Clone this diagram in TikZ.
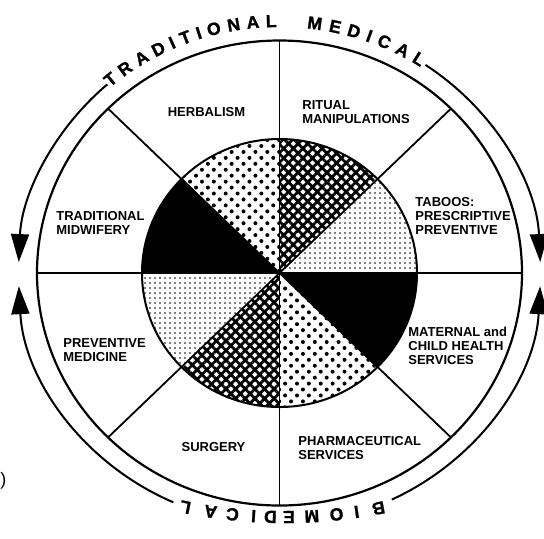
\documentclass[tikz,border=0pt]{standalone}
\usepackage{fontspec}
\setsansfont{Liberation Sans}
\newfontface\arcface{Liberation Sans Bold}[FakeBold=1.2]
\usetikzlibrary{arrows.meta,patterns.meta}

\begin{document}
\begin{tikzpicture}[x=0.5pt,y=0.5pt,
    lbl/.style={font=\sffamily\bfseries\fontsize{6.5}{7}\selectfont, align=left, inner sep=0pt},
    arcl/.style={font=\arcface\fontsize{8.8}{9}\selectfont, inner sep=0pt, anchor=base},
    rim/.style={line width=1pt, -{Triangle[length=14pt,width=9pt]}},
    bigdots/.style={pattern={Dots[radius=1pt,distance=4.2pt,angle=45]}},
    finedots/.style={pattern={Dots[radius=0.45pt,distance=2.5pt]}},
    hatched/.style={pattern={Hatch[angle=45,distance=3.4pt,line width=1.4pt]}},
    darkfill/.style={fill=black}]
        \useasboundingbox (-279.5,-265) rectangle (264.5,273);

        % PIE
        \foreach \a/\sty in {90/bigdots, 45/hatched, 0/finedots, -45/darkfill,
                             -90/bigdots, -135/hatched, 180/finedots, 135/darkfill}
          \fill[\sty] (0,0) -- (\a:137.5 and 134)
            arc[start angle=\a, delta angle=45, x radius=137.5, y radius=134] -- cycle;

        % SEGMENTS
        \foreach \a in {0,45,90,135}
          \draw[line width=0.9pt] (\a:242.5 and 232.5) -- (\a+180:242.5 and 232.5);
        \draw[line width=1pt] (0,0) circle[x radius=137.5, y radius=134];
        \draw[line width=1.1pt] (0,0) circle[x radius=242.5, y radius=232.5];

        % LABELS
        \node[lbl] (herbal) at (-73,160.5) {HERBALISM};
        \node[lbl, anchor=north west] (ritual) at (22.5,173) {RITUAL\\MANIPULATIONS};
        \node[lbl, anchor=north west] (taboos) at (135.5,76) {TABOOS:\\PRESCRIPTIVE\\PREVENTIVE};
        \node[lbl, anchor=north west] (maternal) at (128.5,-53.5) {MATERNAL and\\CHILD HEALTH\\SERVICES};
        \node[lbl, anchor=north west] (pharma) at (18.5,-163) {PHARMACEUTICAL\\SERVICES};
        \node[lbl] (surgery) at (-66,-174) {SURGERY};
        \node[lbl, anchor=north west] (prevmed) at (-216.5,-65) {PREVENTIVE\\MEDICINE};
        \node[lbl, anchor=north west] (midwife) at (-223.5,62) {TRADITIONAL\\MIDWIFERY};
        \node[inner sep=0pt, font=\sffamily\fontsize{9}{9}\selectfont] (paren) at (-276,-208) {)};

        % ARROWS
        \draw[rim] (131.3:261 and 251) arc[start angle=131.3, end angle=177.5, x radius=261, y radius=251];
        \draw[rim] (56:261 and 251) arc[start angle=56, end angle=2.5, x radius=261, y radius=251];
        \draw[rim] (246:261 and 251) arc[start angle=246, end angle=183, x radius=261, y radius=251];
        \draw[rim] (-64.5:261 and 251) arc[start angle=-64.5, end angle=-3, x radius=261, y radius=251];

        % ARC TEXT, one letter at a time
        \foreach \ch/\ang [count=\i] in {T/129.8, R/125.8, A/121.5, D/117.3, I/114.0, T/110.9,
                                         I/107.8, O/104.4, N/100.0, A/95.8, L/91.8,
                                         M/82.3, E/77.8, D/73.6, I/70.1, C/66.6, A/62.2, L/58.1}
          \node[arcl, rotate=\ang-90] (top\i) at (\ang:258 and 246) {\ch};
        \begin{scope}[shift={(5,262)}]
        \foreach \ch/\ang [count=\i] in {B/-79.3, I/-81.8, O/-84.1, M/-86.9, E/-89.5,
                                         D/-91.6, I/-93.5, C/-95.9, A/-98.4, L/-101.3}
          \node[arcl, rotate=\ang-90] (bot\i) at (\ang:500) {\ch};
        \end{scope}
      \end{tikzpicture}
\end{document}
